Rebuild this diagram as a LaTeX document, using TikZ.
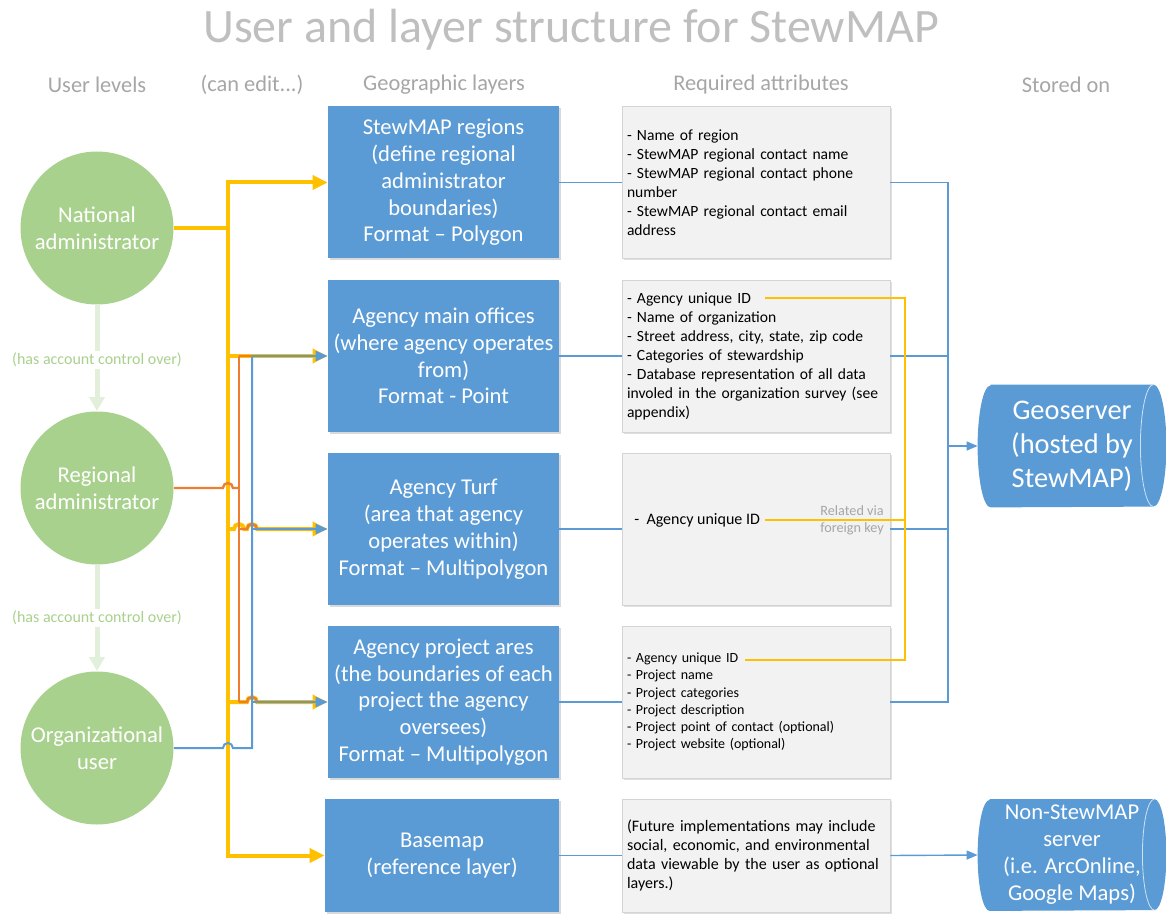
\documentclass[tikz,border=0pt]{standalone}
\usepackage{fontspec}
\setmainfont{Carlito}
\usetikzlibrary{arrows.meta,shadows,backgrounds}

\definecolor{layerblue}{HTML}{5B9BD5}
\definecolor{usergreen}{HTML}{A9D18E}
\definecolor{palegreen}{HTML}{E2EFDA}
\definecolor{editgold}{HTML}{FFC000}
\definecolor{editorange}{HTML}{ED7D31}
\definecolor{attrfill}{HTML}{F2F2F2}
\definecolor{attrline}{HTML}{D4D4D4}
\definecolor{headgray}{HTML}{A6A6A6}
\definecolor{titlegray}{HTML}{BFBFBF}

\begin{document}
\begin{tikzpicture}[x=0.5pt,y=0.5pt,
			user node/.style={circle,fill=usergreen,text=white,minimum size=76.5pt,inner sep=0pt,align=center,font=\fontsize{11.3}{13.5}\selectfont},
			layer node/.style={rectangle,fill=layerblue,text=white,minimum width=115.5pt,minimum height=76pt,inner sep=0pt,align=center,font=\fontsize{11.3}{13.4}\selectfont,drop shadow={shadow xshift=0.8pt,shadow yshift=-0.8pt,opacity=0.3}},
			attr node/.style={rectangle,fill=attrfill,draw=attrline,line width=0.4pt,minimum height=76pt,text width=129pt,inner xsep=2.5pt,align=left,font=\fontsize{7.8}{9.5}\selectfont,drop shadow={shadow xshift=0.8pt,shadow yshift=-0.8pt,opacity=0.25}},
			store node/.style={rectangle,minimum width=94pt,inner sep=0pt,align=center,text=white},
			head node/.style={text=headgray,font=\fontsize{11.2}{13}\selectfont},
			note node/.style={text=usergreen,fill=white,inner sep=1pt,font=\fontsize{8}{9.6}\selectfont},
			gold line/.style={editgold,line width=2pt},
			gold arrow/.style={gold line,-{Triangle[length=7.5pt,width=7pt]}},
			orange line/.style={editorange,line width=1.2pt},
			blue line/.style={layerblue,line width=1pt},
			blue arrow/.style={blue line,-{Triangle[length=6pt,width=5pt]}},
			link/.style={layerblue,line width=0.7pt},
			key link/.style={editgold,line width=0.8pt},
			control/.style={palegreen,line width=2.5pt,-{Triangle[length=7pt,width=7.5pt]}}
			]

			\def \hop {arc[start angle=180,end angle=0,radius=2.5pt]}

			\useasboundingbox (0,0) rectangle (1166,-914);

			\node[text=titlegray,font=\fontsize{24}{28}\selectfont] (title) at (571,-30) {User and layer structure for StewMAP};
			\node[head node] (hUsers) at (97,-85) {User levels};
			\node[head node] (hEdit) at (252,-85) {(can edit...)};
			\node[head node] (hLayers) at (444,-85) {Geographic layers};
			\node[head node] (hAttrs) at (761,-85) {Required attributes};
			\node[head node] (hStore) at (1066,-85) {Stored on};

			% users
			\node[user node] (national) at (97,-228) {National\\administrator};
			\node[user node] (regional) at (97,-488) {Regional\\administrator};
			\node[user node] (orguser) at (97,-748) {Organizational\\user};

			\draw[control] (national.south) -- (regional.north) node[note node,pos=0.52] (ctrlA) {(has account control over)};
			\draw[control] (regional.south) -- (orguser.north) node[note node,pos=0.5] (ctrlB) {(has account control over)};

			% layers
			\node[layer node] (layer1) at (443.5,-182.5) {StewMAP regions\\(define regional\\administrator\\boundaries)\\Format -- Polygon};
			\node[layer node] (layer2) at (443.5,-356) {Agency main offices\\(where agency operates\\from)\\Format - Point};
			\node[layer node] (layer3) at (443.5,-529) {Agency Turf\\(area that agency\\operates within)\\Format -- Multipolygon};
			\node[layer node] (layer4) at (443.5,-702) {Agency project ares\\(the boundaries of each\\project the agency\\oversees)\\Format -- Multipolygon};
			\node[layer node,minimum width=117pt,minimum height=56.5pt] (layer5) at (442,-855.5) {Basemap\\(reference layer)};

			% attributes
			\node[attr node] (attr1) at (756,-182.5) {- Name of region\\- StewMAP regional contact name\\- StewMAP regional contact phone\\number\\- StewMAP regional contact email\\address};
			\node[attr node] (attr2) at (756,-356) {- Agency unique ID\\- Name of organization\\- Street address, city, state, zip code\\- Categories of stewardship\\- Database representation of all data\\involed in the organization survey (see\\appendix)};
			\node[attr node] (attr3) at (756,-529) {};
			\node[attr node,font=\fontsize{7}{8.6}\selectfont] (attr4) at (756,-702) {- Agency unique ID\\- Project name\\- Project categories\\- Project description\\- Project point of contact (optional)\\- Project website (optional)};
			\node[attr node,minimum height=56.5pt,font=\fontsize{8}{9.5}\selectfont] (attr5) at (756,-855.5) {(Future implementations may include\\social, economic, and environmental\\data viewable by the user as optional\\layers.)};
			\node[anchor=west,inner sep=0pt,font=\fontsize{8}{9.6}\selectfont] (turfID) at (634,-520) {-\ \ Agency unique ID};
			\node[text=headgray,align=center,inner sep=0pt,font=\fontsize{7.1}{8.5}\selectfont] (fkNote) at (852,-520) {Related via\\foreign key};

			% storage
			\node[store node,minimum height=61pt,font=\fontsize{14.2}{17}\selectfont] (geo) at (1072,-446) {Geoserver\\(hosted by\\StewMAP)};
			\node[store node,minimum height=55.5pt,font=\fontsize{11.3}{13.5}\selectfont] (other) at (1072,-855) {Non-StewMAP\\server\\(i.e. ArcOnline,\\Google Maps)};
			\begin{scope}[on background layer]
				\fill[layerblue] ([xshift=6.5pt]geo.north west) -- ([xshift=-6.5pt]geo.north east) arc[start angle=90,end angle=-90,x radius=6.5pt,y radius=30.5pt] -- ([xshift=6.5pt]geo.south west) arc[start angle=270,end angle=90,x radius=6.5pt,y radius=30.5pt] -- cycle;
				\fill[layerblue] ([xshift=6pt]other.north west) -- ([xshift=-6pt]other.north east) arc[start angle=90,end angle=-90,x radius=6pt,y radius=27.75pt] -- ([xshift=6pt]other.south west) arc[start angle=270,end angle=90,x radius=6pt,y radius=27.75pt] -- cycle;
			\end{scope}
			\draw[white!70!layerblue,line width=0.4pt] ([xshift=-6.5pt]geo.north east) arc[start angle=90,end angle=270,x radius=6.5pt,y radius=30.5pt];
			\draw[white!70!layerblue,line width=0.4pt] ([xshift=-6pt]other.north east) arc[start angle=90,end angle=270,x radius=6pt,y radius=27.75pt];

			% can edit
			\coordinate (gx) at (228,0);
			\coordinate (ox) at (239,0);
			\coordinate (bx) at (252,0);

			\draw[gold arrow] (national.east) -| (gx |- layer1.west) -- (layer1.west);
			\draw[gold arrow] (gx |- national.east) |- (layer5.west);
			\draw[gold arrow] (gx |- layer2.west) -- (layer2.west);
			\draw[gold arrow] (gx |- layer3.west) -- ++(6,0) \hop -- ++(3,0) \hop -- (layer3.west);
			\draw[gold arrow] (gx |- layer4.west) -- ++(19,0) \hop -- (layer4.west);

			\draw[orange line] (regional.east) -- ++(49,0) \hop -- (ox |- regional.east);
			\draw[orange line] (ox |- layer2.west) -- (ox |- layer4.west);
			\draw[orange line,shorten >=6pt] (ox |- layer2.west) -- (layer2.west);
			\draw[orange line,shorten >=6pt] (ox |- layer3.west) -- ++(8,0) \hop -- (layer3.west);
			\draw[orange line,shorten >=6pt] (ox |- layer4.west) -- ++(8,0) \hop -- (layer4.west);

			\draw[blue line] (orguser.east) -- ++(49,0) \hop -- (bx |- orguser.east) -- (bx |- layer2.west);
			\draw[blue arrow] (bx |- layer2.west) -- (layer2.west);
			\draw[blue arrow] (bx |- layer3.west) -- (layer3.west);
			\draw[blue arrow] (bx |- layer4.west) -- (layer4.west);

			% layers to attributes to storage
			\foreach \i in {1,...,5}
				\draw[link] (layer\i.east) -- (attr\i.west);
			\coordinate (sx) at (948,0);
			\draw[link] (attr1.east) -| (sx |- attr4.east) -- (attr4.east);
			\draw[link] (attr2.east) -- (sx |- attr2.east);
			\draw[link] (attr3.east) -- (sx |- attr3.east);
			\draw[link,-{Triangle[length=5.5pt,width=4.5pt]}] (sx |- geo.west) -- (geo.west);
			\draw[link,-{Triangle[length=5.5pt,width=4.5pt]}] (attr5.east) -- (other.west);

			% foreign key
			\coordinate (fk2) at (765,-298);
			\coordinate (fk4) at (745,-660);
			\coordinate (fx) at (905,0);
			\draw[key link] (fk2) -| (fx |- fk4) -- (fk4);
			\draw[key link,shorten <=2.5pt] (turfID.east) -- (fx |- turfID.east);
		\end{tikzpicture}
\end{document}
